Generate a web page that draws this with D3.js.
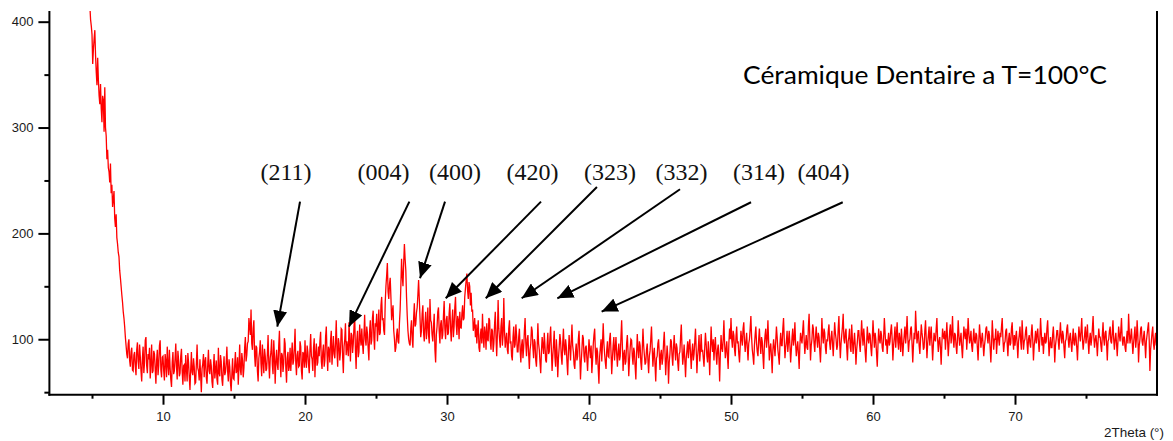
<!DOCTYPE html>
<html>
<head>
<meta charset="utf-8">
<script src="https://cdn.jsdelivr.net/npm/d3@7"></script>
<style>
  html, body { margin: 0; padding: 0; background: #fff; }
  svg { display: block; }
</style>
</head>
<body>
<svg id="chart" width="1173" height="441"></svg>
<script>
// XRD pattern sampled on a regular 2θ grid (degrees)
const twoThetaStart = 4.8;
const twoThetaStep = 0.05;

// Measured intensity (counts), one row per degree of 2θ
const intensity = [
  428, 415, 402, 396,
  388, 360, 374, 384, 392, 368, 352, 340, 366, 345, 330, 322, 341, 318, 305, 330, 326, 296, 338, 300,
  292, 270, 279, 262, 258, 248, 266, 238, 246, 225, 232, 240, 214, 206, 218, 196, 190, 182, 178, 165,
  158, 150, 142, 135, 126, 120, 112, 102, 94, 86, 82, 96, 100, 80, 74, 88, 92, 71, 70, 85,
  88, 74, 66, 90, 97, 79, 72, 95, 84, 70, 60, 82, 93, 68, 78, 99, 102, 75, 68, 86,
  81, 92, 63, 77, 95, 68, 70, 89, 86, 72, 58, 80, 90, 66, 75, 94, 99, 71, 64, 83,
  84, 70, 61, 86, 79, 64, 93, 76, 66, 90, 73, 62, 55, 78, 88, 67, 70, 82, 96, 74,
  62, 89, 80, 65, 68, 84, 91, 70, 57, 75, 76, 60, 85, 72, 60, 87, 78, 64, 52, 71,
  88, 69, 66, 82, 74, 58, 59, 77, 95, 73, 70, 61, 81, 66, 50, 72, 77, 86, 64, 79,
  83, 64, 58, 76, 90, 70, 67, 81, 75, 60, 54, 73, 86, 63, 71, 80, 62, 57, 92, 68,
  65, 85, 79, 62, 56, 72, 84, 66, 69, 78, 93, 70, 60, 81, 74, 59, 51, 67, 82, 63,
  62, 76, 88, 68, 70, 83, 57, 74, 95, 71, 66, 87, 80, 64, 73, 92, 102, 79, 85, 96,
  98, 120, 112, 104, 128, 96, 90, 110, 118, 85, 74, 94, 92, 70, 60, 82, 88, 99, 77, 65,
  95, 80, 68, 91, 84, 70, 72, 86, 104, 78, 63, 82, 88, 100, 76, 67, 99, 84, 58, 79,
  90, 76, 71, 94, 108, 80, 64, 87, 85, 69, 77, 101, 96, 73, 59, 82, 88, 70, 74, 92,
  70, 84, 97, 76, 80, 92, 110, 78, 66, 85, 89, 74, 75, 98, 93, 70, 62, 88, 86, 73,
  99, 80, 73, 94, 88, 76, 68, 90, 105, 84, 81, 70, 92, 101, 64, 86, 96, 75, 78, 93,
  84, 98, 107, 79, 72, 88, 95, 74, 80, 102, 112, 86, 70, 93, 90, 78, 99, 108, 76, 89,
  103, 86, 82, 97, 118, 90, 74, 101, 96, 80, 88, 110, 109, 84, 68, 93, 100, 115, 85, 98,
  92, 84, 116, 97, 79, 106, 104, 87, 96, 112, 122, 90, 72, 99, 108, 83, 88, 114, 101, 94,
  110, 96, 86, 104, 123, 100, 94, 112, 105, 91, 80, 108, 118, 95, 99, 120, 127, 102, 90, 115,
  112, 124, 98, 110, 128, 104, 106, 132, 140, 118, 120, 108, 104, 135, 150, 160, 172, 145, 138, 152,
  158, 140, 118, 126, 132, 108, 100, 88, 92, 104, 110, 98, 96, 115, 128, 150, 176, 160, 150, 172,
  190, 176, 165, 140, 122, 108, 100, 96, 94, 110, 118, 100, 92, 120, 134, 112, 114, 125, 130, 142,
  156, 138, 120, 102, 108, 124, 132, 106, 98, 114, 126, 100, 112, 130, 104, 96, 138, 118, 116, 104,
  98, 112, 124, 90, 78, 104, 112, 126, 130, 108, 96, 114, 118, 100, 104, 122, 136, 110, 100, 118,
  122, 104, 106, 124, 134, 110, 98, 116, 128, 102, 112, 130, 140, 114, 104, 122, 118, 100, 126, 112,
  110, 124, 132, 118, 120, 140, 148, 156, 162, 146, 138, 154, 150, 132, 144, 126, 128, 108, 112, 120,
  102, 114, 96, 108, 118, 92, 88, 104, 110, 96, 124, 102, 92, 112, 106, 90, 115, 100, 98, 120,
  118, 98, 90, 110, 108, 88, 96, 114, 126, 102, 84, 106, 137, 110, 100, 92, 112, 120, 94, 104,
  139, 108, 92, 100, 106, 90, 86, 110, 118, 96, 98, 84, 80, 102, 112, 92, 95, 114, 104, 88,
  88, 102, 110, 90, 78, 94, 100, 82, 92, 108, 120, 96, 84, 100, 104, 86, 72, 90, 96, 112,
  108, 92, 82, 100, 97, 80, 74, 92, 115, 96, 90, 78, 68, 88, 102, 94, 86, 106, 94, 80,
  78, 94, 106, 86, 88, 102, 112, 90, 70, 84, 95, 108, 83, 74, 100, 88, 64, 82, 92, 105,
  98, 84, 76, 96, 110, 90, 85, 100, 93, 78, 66, 88, 104, 92, 80, 98, 114, 94, 88, 76,
  72, 88, 96, 80, 84, 100, 108, 86, 62, 78, 90, 104, 101, 84, 78, 92, 94, 82, 70, 86,
  100, 90, 82, 94, 68, 80, 95, 104, 110, 88, 76, 92, 88, 72, 58, 84, 92, 100, 79, 96,
  115, 96, 86, 78, 72, 90, 98, 84, 83, 100, 106, 88, 67, 82, 94, 102, 80, 92, 102, 86,
  74, 88, 96, 80, 84, 102, 118, 94, 70, 86, 90, 76, 79, 96, 104, 88, 65, 80, 92, 100,
  99, 84, 76, 92, 88, 74, 62, 86, 105, 90, 82, 98, 94, 78, 71, 90, 110, 94, 85, 76,
  78, 90, 96, 80, 68, 84, 89, 100, 112, 92, 74, 86, 92, 76, 60, 82, 84, 96, 100, 86,
  71, 86, 90, 76, 82, 96, 107, 88, 66, 80, 94, 84, 58, 78, 86, 100, 98, 84, 75, 92,
  104, 90, 80, 96, 92, 78, 70, 86, 88, 102, 114, 92, 76, 84, 95, 80, 64, 82, 90, 98,
  82, 94, 100, 86, 72, 88, 96, 80, 86, 98, 110, 90, 68, 84, 92, 104, 79, 90, 105, 88,
  90, 82, 74, 92, 106, 96, 84, 78, 98, 86, 66, 90, 112, 96, 88, 100, 80, 94, 102, 86,
  76, 90, 95, 82, 60, 86, 104, 92, 88, 100, 118, 96, 82, 90, 98, 84, 72, 96, 110, 100,
  120, 100, 92, 108, 104, 90, 84, 102, 112, 96, 98, 86, 78, 94, 108, 100, 94, 110, 116, 98,
  88, 98, 106, 92, 80, 96, 100, 110, 122, 102, 90, 84, 76, 94, 104, 112, 96, 88, 84, 100,
  110, 96, 86, 102, 98, 84, 72, 94, 104, 110, 92, 100, 118, 98, 80, 92, 96, 84, 68, 90,
  100, 92, 84, 98, 112, 102, 90, 84, 76, 96, 106, 94, 94, 110, 120, 100, 82, 92, 98, 108,
  88, 98, 108, 94, 78, 90, 102, 110, 94, 100, 116, 96, 84, 92, 98, 86, 72, 94, 106, 100,
  96, 108, 118, 100, 86, 96, 104, 92, 90, 112, 124, 102, 80, 94, 100, 114, 110, 96, 88, 102,
  112, 100, 92, 106, 102, 90, 78, 96, 120, 104, 96, 110, 106, 92, 86, 100, 98, 108, 114, 96,
  90, 102, 108, 96, 84, 100, 116, 106, 100, 90, 94, 110, 122, 98, 82, 96, 104, 112, 124, 100,
  96, 106, 110, 92, 80, 98, 102, 110, 92, 88, 114, 100, 86, 96, 106, 94, 76, 90, 98, 108,
  108, 96, 88, 102, 118, 104, 94, 110, 100, 88, 78, 96, 112, 100, 96, 106, 104, 92, 84, 100,
  118, 104, 92, 106, 100, 86, 74, 94, 110, 100, 96, 108, 104, 92, 88, 102, 120, 106, 94, 100,
  86, 98, 106, 94, 98, 108, 114, 100, 80, 94, 102, 112, 92, 104, 116, 98, 90, 106, 100, 88,
  110, 98, 84, 96, 104, 112, 96, 106, 122, 102, 88, 98, 100, 110, 112, 96, 78, 94, 106, 100,
  127, 110, 96, 104, 108, 94, 86, 100, 114, 106, 100, 90, 92, 108, 118, 100, 82, 96, 104, 112,
  94, 104, 112, 96, 80, 94, 106, 100, 98, 110, 120, 100, 88, 98, 102, 92, 76, 96, 110, 104,
  100, 108, 90, 102, 116, 100, 84, 96, 108, 114, 96, 104, 122, 100, 92, 106, 104, 94, 86, 100,
  118, 104, 94, 100, 106, 92, 82, 98, 112, 104, 100, 110, 90, 102, 120, 106, 96, 100, 108, 94,
  88, 100, 110, 98, 96, 106, 104, 92, 80, 98, 114, 104, 92, 100, 106, 96, 84, 94, 100, 110,
  112, 102, 96, 108, 104, 92, 78, 96, 118, 104, 90, 100, 100, 110, 86, 98, 108, 100, 94, 106,
  102, 112, 120, 100, 88, 96, 98, 108, 110, 96, 84, 100, 106, 94, 96, 110, 116, 100, 90, 104,
  94, 102, 108, 96, 82, 98, 104, 112, 98, 90, 118, 104, 90, 98, 100, 108, 112, 96, 86, 100,
  104, 96, 92, 106, 114, 100, 80, 94, 100, 108, 96, 104, 110, 98, 88, 100, 120, 106, 94, 102,
  86, 98, 106, 96, 98, 110, 118, 100, 84, 96, 102, 92, 92, 104, 112, 98, 78, 94, 100, 108,
  108, 98, 90, 104, 116, 102, 96, 108, 104, 92, 82, 98, 100, 110, 114, 100, 92, 102, 106, 96,
  88, 100, 110, 96, 94, 106, 102, 92, 80, 98, 112, 104, 98, 108, 120, 100, 90, 98, 104, 112,
  96, 104, 114, 98, 86, 100, 106, 94, 100, 110, 122, 102, 92, 100, 104, 96, 84, 98, 110, 102,
  102, 94, 88, 104, 116, 100, 94, 106, 108, 96, 80, 98, 100, 108, 112, 98, 96, 106, 118, 100,
  90, 100, 106, 96, 84, 98, 112, 104, 98, 108, 120, 100, 94, 102, 102, 92, 88, 100, 108, 96,
  124, 106, 96, 102, 110, 98, 86, 96, 104, 112, 92, 100, 118, 104, 78, 94, 100, 110, 112, 98,
  94, 102, 108, 96, 82, 98, 104, 110, 116, 100, 70, 90, 98, 106, 112, 96, 90, 100, 106, 94,
  100
];

// Axis extents and ticks
const xDomain = [2, 80];
const yDomain = [47.6, 410.1];
const xTicks = [10, 20, 30, 40, 50, 60, 70];
const xMinorTicks = [5, 15, 25, 35, 45, 55, 65, 75];
const yTicks = [100, 200, 300, 400];
const yMinorTicks = [50, 150, 250, 350];

// Miller-index annotations: label anchor and arrow (2θ, intensity)
const peakLabels = ["(211)", "(004)", "(400)", "(420)", "(323)", "(332)", "(314)", "(404)"];
const labelTheta = [18.66, 25.53, 30.56, 36.02, 41.48, 46.51, 51.97, 56.51];
const labelIntensity = 250;
const arrowFromTheta = [19.65, 27.35, 29.86, 36.62, 40.56, 46.41, 51.41, 57.87];
const arrowFromI = [230.0, 230.0, 230.0, 230.0, 243.9, 241.7, 229.4, 229.4];
const arrowToTheta = [18.05, 23.10, 28.10, 29.91, 32.73, 35.26, 37.77, 40.89];
const arrowToI = [111.9, 111.9, 157.6, 138.7, 138.7, 138.7, 138.7, 126.1];

const chartTitle = "Céramique Dentaire a T=100°C";
const xAxisTitle = "2Theta (°)";

const svg = d3.select("#chart");
const plotLeft = 49.4, plotRight = 1157, plotTop = 11, plotBottom = 394.7;

const x = d3.scaleLinear().domain(xDomain).range([plotLeft, plotRight]);
const y = d3.scaleLinear().domain(yDomain).range([plotBottom, plotTop]);

const points = intensity.map((v, i) => ({ t: twoThetaStart + i * twoThetaStep, v }));

const defs = svg.append("defs");
defs.append("clipPath").attr("id", "plot-clip")
  .append("rect")
  .attr("x", plotLeft).attr("y", plotTop)
  .attr("width", plotRight - plotLeft).attr("height", plotBottom - plotTop);

// Diffraction trace
svg.append("path")
  .datum(points)
  .attr("clip-path", "url(#plot-clip)")
  .attr("fill", "none")
  .attr("stroke", "#ff0000")
  .attr("stroke-width", 1.3)
  .attr("stroke-linejoin", "miter")
  .attr("d", d3.line().x(d => x(d.t)).y(d => y(d.v)));

// Axes
const tickFont = "'Liberation Sans', Arial, sans-serif";

const gx = svg.append("g").attr("transform", `translate(0,${plotBottom})`)
  .call(d3.axisBottom(x).tickValues(xTicks).tickSize(10).tickSizeOuter(0).tickPadding(7).tickFormat(d3.format("d")));
const gxMinor = svg.append("g").attr("transform", `translate(0,${plotBottom})`)
  .call(d3.axisBottom(x).tickValues(xMinorTicks).tickSize(4).tickSizeOuter(0).tickFormat(""));

const gy = svg.append("g").attr("transform", `translate(${plotLeft},0)`)
  .call(d3.axisLeft(y).tickValues(yTicks).tickSize(11).tickSizeOuter(0).tickPadding(5).tickFormat(d3.format("d")));
const gyMinor = svg.append("g").attr("transform", `translate(${plotLeft},0)`)
  .call(d3.axisLeft(y).tickValues(yMinorTicks).tickSize(5).tickSizeOuter(0).tickFormat(""));

[gx, gxMinor, gy, gyMinor].forEach(g => {
  g.select(".domain").remove();
  g.selectAll(".tick line").attr("stroke", "#000").attr("stroke-width", 2);
  g.selectAll(".tick text")
    .attr("fill", "#1a1a1a")
    .style("font-family", tickFont)
    .style("font-size", "13px");
});

// Frame: left axis, bottom axis, right edge
const frame = svg.append("g").attr("stroke", "#000").attr("stroke-width", 2).attr("fill", "none");
frame.append("line").attr("x1", plotLeft).attr("x2", plotLeft).attr("y1", plotTop).attr("y2", plotBottom + 1);
frame.append("line").attr("x1", plotLeft - 1).attr("x2", plotRight + 1).attr("y1", plotBottom).attr("y2", plotBottom);
frame.append("line").attr("x1", plotRight).attr("x2", plotRight).attr("y1", plotTop).attr("y2", plotBottom + 1);

// Axis title
svg.append("text")
  .attr("x", 1164).attr("y", 437)
  .attr("text-anchor", "end")
  .attr("fill", "#1a1a1a")
  .style("font-family", tickFont)
  .style("font-size", "13px")
  .attr("textLength", 60)
  .attr("lengthAdjust", "spacingAndGlyphs")
  .text(xAxisTitle);

// Chart title
svg.append("text")
  .attr("x", 743).attr("y", 83.5)
  .attr("fill", "#000")
  .style("font-family", "Lato, 'Open Sans', sans-serif")
  .style("font-size", "25px")
  .attr("textLength", 364)
  .attr("lengthAdjust", "spacingAndGlyphs")
  .text(chartTitle);

// Arrowhead marker
defs.append("marker")
  .attr("id", "arrowhead")
  .attr("markerUnits", "userSpaceOnUse")
  .attr("markerWidth", 17).attr("markerHeight", 14)
  .attr("refX", 16).attr("refY", 7)
  .attr("orient", "auto")
  .append("path")
  .attr("d", "M0,0 L16,7 L0,14 Z")
  .attr("fill", "#000");

// Peak annotations
const ann = svg.append("g");
peakLabels.forEach((lab, i) => {
  ann.append("text")
    .attr("x", x(labelTheta[i])).attr("y", y(labelIntensity))
    .attr("text-anchor", "middle")
    .attr("fill", "#111")
    .style("font-family", "'Liberation Serif', 'Times New Roman', serif")
    .style("font-size", "24px")
    .text(lab);
  ann.append("line")
    .attr("x1", x(arrowFromTheta[i])).attr("y1", y(arrowFromI[i]))
    .attr("x2", x(arrowToTheta[i])).attr("y2", y(arrowToI[i]))
    .attr("stroke", "#000").attr("stroke-width", 2)
    .attr("marker-end", "url(#arrowhead)");
});
</script>
</body>
</html>
